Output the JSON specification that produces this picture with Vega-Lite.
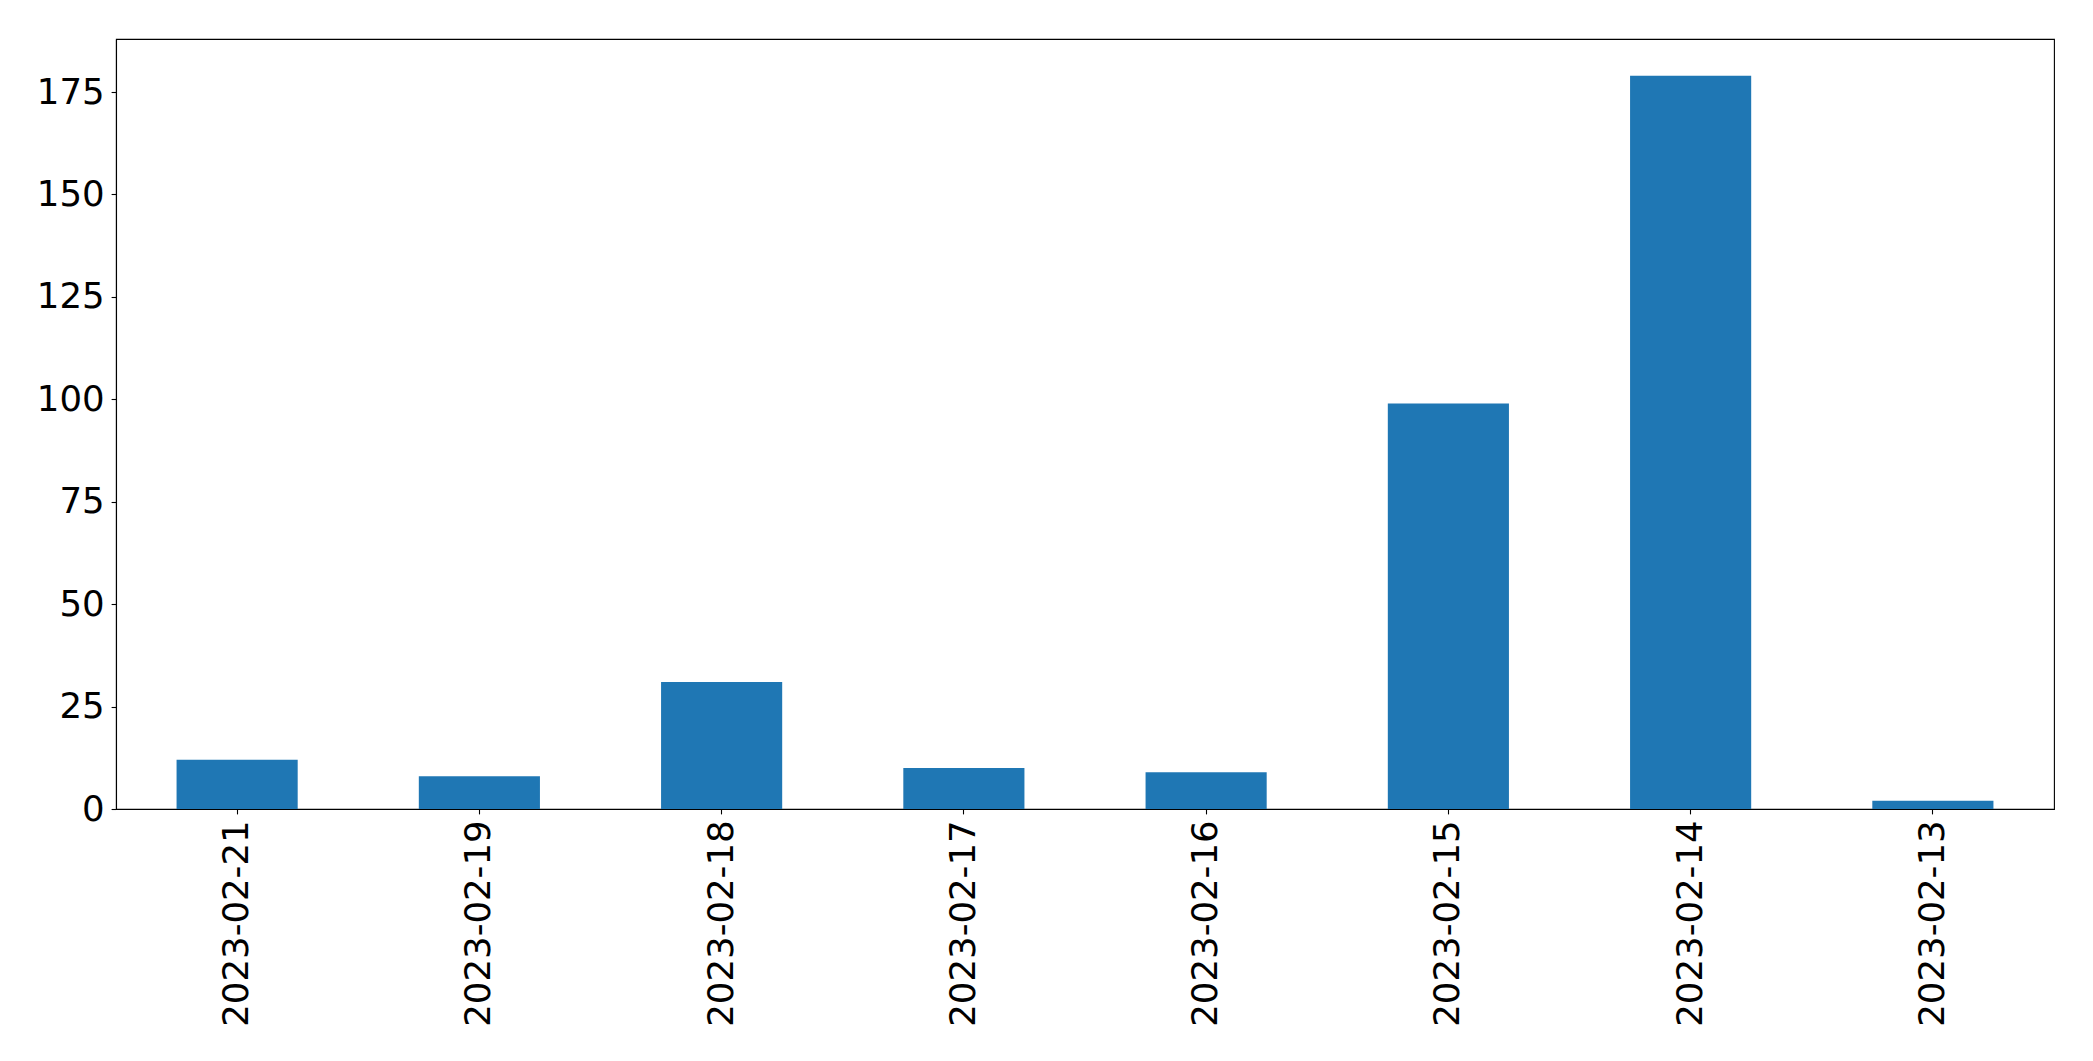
{
  "$schema": "https://vega.github.io/schema/vega-lite/v6.json",
  "autosize": "none",
  "width": 1938,
  "height": 770,
  "padding": {"left": 116, "top": 39, "right": 39, "bottom": 252},
  "background": "white",
  "data": {
    "values": [
      {"date": "2023-02-21", "count": 12},
      {"date": "2023-02-19", "count": 8},
      {"date": "2023-02-18", "count": 31},
      {"date": "2023-02-17", "count": 10},
      {"date": "2023-02-16", "count": 9},
      {"date": "2023-02-15", "count": 99},
      {"date": "2023-02-14", "count": 179},
      {"date": "2023-02-13", "count": 2}
    ]
  },
  "config": {
    "view": {"stroke": "black", "strokeWidth": 1.1},
    "font": "DejaVu Sans",
    "axis": {
      "labelFont": "DejaVu Sans",
      "labelFontSize": 35.5,
      "labelColor": "black",
      "labelLimit": 0,
      "domainColor": "black",
      "tickColor": "black",
      "tickSize": 4.9,
      "tickWidth": 1.1,
      "domainWidth": 1.1,
      "grid": false,
      "title": null
    }
  },
  "mark": {"type": "bar", "color": "#1f77b4"},
  "encoding": {
    "x": {
      "field": "date",
      "type": "nominal",
      "sort": null,
      "scale": {"paddingInner": 0.5, "paddingOuter": 0.25},
      "axis": {
        "labelAngle": -90,
        "labelAlign": "right",
        "labelBaseline": "middle",
        "labelPadding": 6,
        "labelLimit": 0,
        "title": null
      }
    },
    "y": {
      "field": "count",
      "type": "quantitative",
      "scale": {"domain": [0, 187.95], "nice": false, "zero": true},
      "axis": {
        "values": [0, 25, 50, 75, 100, 125, 150, 175],
        "labelPadding": 7,
        "title": null
      }
    }
  }
}
